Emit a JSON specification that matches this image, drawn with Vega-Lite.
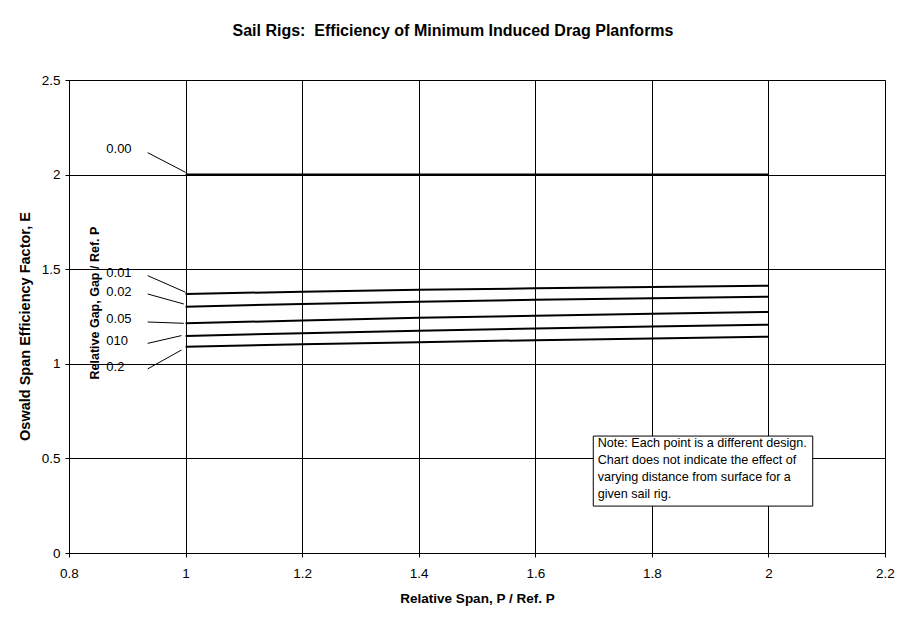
{
  "$schema": "https://vega.github.io/schema/vega-lite/v6.json",
  "width": 816,
  "height": 473,
  "autosize": "none",
  "padding": {"left": 69, "top": 80, "right": 26, "bottom": 70},
  "background": "white",
  "config": {
    "font": "Liberation Sans",
    "view": {"stroke": "#808080", "strokeWidth": 1},
    "axis": {
      "grid": true,
      "gridColor": "black",
      "gridOpacity": 1,
      "gridWidth": 1,
      "domainColor": "black",
      "tickColor": "black",
      "tickSize": 4,
      "labelFlush": false,
      "labelFont": "Liberation Sans",
      "labelFontSize": 13.5,
      "labelColor": "black",
      "titleFont": "Liberation Sans",
      "titleFontSize": 13.5,
      "titleFontWeight": "bold",
      "titleColor": "black"
    }
  },
  "title": {
    "text": "Sail Rigs: \u00a0Efficiency of Minimum Induced Drag Planforms",
    "font": "Liberation Sans",
    "fontSize": 16,
    "fontWeight": "bold",
    "color": "black",
    "anchor": "middle",
    "dx": -24,
    "offset": 34
  },
  "datasets": {
    "curves": [
      {"gap": "0.00", "span": 1.0, "e": 2.0},
      {"gap": "0.00", "span": 1.2, "e": 2.0},
      {"gap": "0.00", "span": 1.4, "e": 2.0},
      {"gap": "0.00", "span": 1.6, "e": 2.0},
      {"gap": "0.00", "span": 1.8, "e": 2.0},
      {"gap": "0.00", "span": 2.0, "e": 2.0},
      {"gap": "0.01", "span": 1.0, "e": 1.369},
      {"gap": "0.01", "span": 1.2, "e": 1.381},
      {"gap": "0.01", "span": 1.4, "e": 1.391},
      {"gap": "0.01", "span": 1.6, "e": 1.399},
      {"gap": "0.01", "span": 1.8, "e": 1.406},
      {"gap": "0.01", "span": 2.0, "e": 1.413},
      {"gap": "0.02", "span": 1.0, "e": 1.302},
      {"gap": "0.02", "span": 1.2, "e": 1.316},
      {"gap": "0.02", "span": 1.4, "e": 1.328},
      {"gap": "0.02", "span": 1.6, "e": 1.338},
      {"gap": "0.02", "span": 1.8, "e": 1.347},
      {"gap": "0.02", "span": 2.0, "e": 1.355},
      {"gap": "0.05", "span": 1.0, "e": 1.214},
      {"gap": "0.05", "span": 1.2, "e": 1.229},
      {"gap": "0.05", "span": 1.4, "e": 1.243},
      {"gap": "0.05", "span": 1.6, "e": 1.254},
      {"gap": "0.05", "span": 1.8, "e": 1.264},
      {"gap": "0.05", "span": 2.0, "e": 1.274},
      {"gap": "0.10", "span": 1.0, "e": 1.147},
      {"gap": "0.10", "span": 1.2, "e": 1.162},
      {"gap": "0.10", "span": 1.4, "e": 1.175},
      {"gap": "0.10", "span": 1.6, "e": 1.187},
      {"gap": "0.10", "span": 1.8, "e": 1.197},
      {"gap": "0.10", "span": 2.0, "e": 1.207},
      {"gap": "0.2", "span": 1.0, "e": 1.090},
      {"gap": "0.2", "span": 1.2, "e": 1.103},
      {"gap": "0.2", "span": 1.4, "e": 1.114},
      {"gap": "0.2", "span": 1.6, "e": 1.125},
      {"gap": "0.2", "span": 1.8, "e": 1.134},
      {"gap": "0.2", "span": 2.0, "e": 1.143}
    ],
    "labels": [
      {"label": "0.00", "lx": 0.864, "ly": 2.133, "x1": 0.935, "y1": 2.116, "x2": 1.0, "y2": 2.012},
      {"label": "0.01", "lx": 0.864, "ly": 1.478, "x1": 0.935, "y1": 1.466, "x2": 1.0, "y2": 1.378},
      {"label": "0.02", "lx": 0.864, "ly": 1.381, "x1": 0.935, "y1": 1.369, "x2": 0.997, "y2": 1.316},
      {"label": "0.05", "lx": 0.864, "ly": 1.235, "x1": 0.935, "y1": 1.221, "x2": 0.997, "y2": 1.214},
      {"label": "010", "lx": 0.864, "ly": 1.122, "x1": 0.935, "y1": 1.108, "x2": 0.993, "y2": 1.149},
      {"label": "0.2", "lx": 0.864, "ly": 0.985, "x1": 0.935, "y1": 0.973, "x2": 0.993, "y2": 1.073}
    ],
    "legendTitle": [
      {"text": "Relative Gap, Gap / Ref. P", "x": 0.844, "y": 1.321}
    ],
    "note": [
      {"x": 1.6995, "x2": 2.076, "y": 0.618, "y2": 0.248,
       "tx": 1.707, "ty": 0.612,
       "text": ["Note: Each point is a different design.", "Chart does not indicate the effect of", "varying distance from surface for a", "given sail rig."]}
    ]
  },
  "layer": [
    {
      "data": {"name": "curves"},
      "mark": {"type": "line", "color": "black", "strokeWidth": 2, "clip": true},
      "encoding": {
        "x": {
          "field": "span",
          "type": "quantitative",
          "scale": {"domain": [0.8, 2.2], "nice": false, "zero": false},
          "axis": {
            "title": "Relative Span, P / Ref. P",
            "values": [0.8, 1.0, 1.2, 1.4, 1.6, 1.8, 2.0, 2.2],
            "format": "~g",
            "labelPadding": 9,
            "titlePadding": 12
          }
        },
        "y": {
          "field": "e",
          "type": "quantitative",
          "scale": {"domain": [0, 2.5], "nice": false},
          "axis": {
            "title": "Oswald Span Efficiency Factor, E",
            "values": [0, 0.5, 1.0, 1.5, 2.0, 2.5],
            "format": "~g",
            "labelPadding": 5,
            "titleFontSize": 14.5,
            "titleY": 246,
            "titlePadding": 9
          }
        },
        "detail": {"field": "gap", "type": "nominal"}
      }
    },
    {
      "data": {"name": "labels"},
      "mark": {"type": "rule", "color": "black", "strokeWidth": 1},
      "encoding": {
        "x": {"field": "x1", "type": "quantitative"},
        "y": {"field": "y1", "type": "quantitative"},
        "x2": {"field": "x2"},
        "y2": {"field": "y2"}
      }
    },
    {
      "data": {"name": "labels"},
      "mark": {"type": "text", "align": "left", "baseline": "middle", "fontSize": 13, "color": "black"},
      "encoding": {
        "x": {"field": "lx", "type": "quantitative"},
        "y": {"field": "ly", "type": "quantitative"},
        "text": {"field": "label"}
      }
    },
    {
      "data": {"name": "legendTitle"},
      "mark": {"type": "text", "angle": 270, "align": "center", "baseline": "middle", "fontSize": 12.5, "fontWeight": "bold", "color": "black"},
      "encoding": {
        "x": {"field": "x", "type": "quantitative"},
        "y": {"field": "y", "type": "quantitative"},
        "text": {"field": "text"}
      }
    },
    {
      "data": {"name": "note"},
      "mark": {"type": "rect", "fill": "white", "stroke": "black", "strokeWidth": 1},
      "encoding": {
        "x": {"field": "x", "type": "quantitative"},
        "x2": {"field": "x2"},
        "y": {"field": "y", "type": "quantitative"},
        "y2": {"field": "y2"}
      }
    },
    {
      "data": {"name": "note"},
      "mark": {"type": "text", "align": "left", "baseline": "top", "fontSize": 12.6, "lineHeight": 17, "color": "black"},
      "encoding": {
        "x": {"field": "tx", "type": "quantitative"},
        "y": {"field": "ty", "type": "quantitative"},
        "text": {"field": "text"}
      }
    }
  ]
}
